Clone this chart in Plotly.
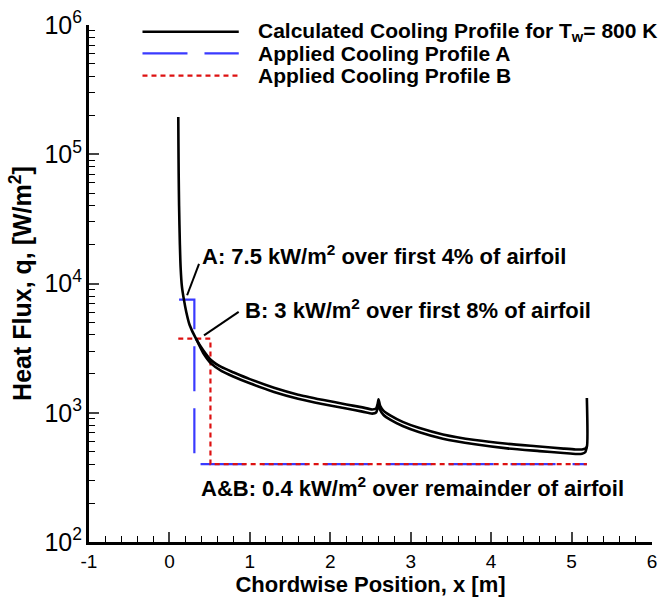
import plotly.graph_objects as go

# ---------------- data ----------------
# Calculated cooling profile (upper branch of the double curve)
x_up = [0.110, 0.112, 0.115, 0.120, 0.130, 0.140, 0.155, 0.180, 0.210, 0.250, 0.330,
        0.420, 0.520, 0.650, 0.800, 1.000, 1.300, 1.600, 1.900, 2.200, 2.400, 2.520,
        2.570, 2.590, 2.600, 2.620, 2.660, 2.750, 2.900, 3.100, 3.400, 3.800, 4.200,
        4.600, 4.900, 5.050, 5.130, 5.170, 5.190, 5.190]
q_up = [194000, 120000, 70000, 40000, 20000, 13000, 9500, 7500, 6000, 4800, 3750,
        3050, 2550, 2250, 2050, 1820, 1560, 1380, 1260, 1160, 1100, 1060,
        1080, 1180, 1270, 1130, 1040, 950, 850, 765, 680, 615, 575,
        548, 528, 520, 520, 528, 545, 1300]
# Calculated cooling profile (lower branch of the double curve)
x_lo = [0.330, 0.420, 0.520, 0.650, 0.800, 1.000, 1.300, 1.600, 1.900, 2.200, 2.400,
        2.520, 2.570, 2.590, 2.600, 2.620, 2.660, 2.750, 2.900, 3.100, 3.400, 3.800,
        4.200, 4.600, 4.900, 5.050, 5.130, 5.170, 5.190]
q_lo = [3750, 2900, 2400, 2100, 1900, 1690, 1450, 1285, 1170, 1080, 1020,
        985, 1005, 1100, 1180, 1050, 965, 880, 790, 710, 630, 570,
        530, 505, 488, 480, 482, 495, 545]
# Applied cooling profiles
x_a = [0.12, 0.31, 0.31, 5.19]
q_a = [7500, 7500, 400, 400]
x_b = [0.11, 0.51, 0.51, 5.19]
q_b = [3750, 3750, 400, 400]

# x tick labels
x_tickvals = [-1, 0, 1, 2, 3, 4, 5, 6]
x_ticktext = ["-1", "0", "1", "2", "3", "4", "5", "6"]

legend_labels = ["Calculated Cooling Profile for T<sub>w</sub>= 800 K",
                 "Applied Cooling Profile A",
                 "Applied Cooling Profile B"]
note_a = "A: 7.5 kW/m<sup>2</sup> over first 4% of airfoil"
note_b = "B: 3 kW/m<sup>2</sup> over first 8% of airfoil"
note_ab = "A&B: 0.4 kW/m<sup>2</sup> over remainder of airfoil"

BLUE = "#3a3aff"
RED = "#dd1111"
FONT = "Liberation Sans, Arial, sans-serif"

fig = go.Figure()
fig.add_trace(go.Scatter(x=x_a, y=q_a, mode="lines",
                         line=dict(color=BLUE, width=2.2, dash="45px,17px"),
                         showlegend=False))
fig.add_trace(go.Scatter(x=x_b, y=q_b, mode="lines",
                         line=dict(color=RED, width=2.2, dash="5px,4px"),
                         showlegend=False))
fig.add_trace(go.Scatter(x=x_up, y=q_up, mode="lines", line_shape="spline",
                         line=dict(color="black", width=2.6, smoothing=0.6), showlegend=False))
fig.add_trace(go.Scatter(x=x_lo, y=q_lo, mode="lines", line_shape="spline",
                         line=dict(color="black", width=2.6, smoothing=0.6), showlegend=False))

# manual legend (long line samples as in the reference)
leg_styles = [dict(color="black", width=2.6),
              dict(color=BLUE, width=2.2, dash="45px,17px"),
              dict(color=RED, width=2.2, dash="5px,4px")]
leg_y = [0.987, 0.945, 0.902]
for lab, st, yy in zip(legend_labels, leg_styles, leg_y):
    fig.add_shape(type="line", xref="paper", yref="paper",
                  x0=0.095, x1=0.266, y0=yy, y1=yy, line=st)
    fig.add_annotation(xref="paper", yref="paper", x=0.296, y=yy,
                       text="<b>" + lab + "</b>", showarrow=False,
                       xanchor="left", yanchor="middle",
                       font=dict(family=FONT, size=21, color="black"))

# leader lines
fig.add_shape(type="line", xref="x", yref="y", x0=0.220, y0=8110, x1=0.368, y1=14190,
              line=dict(color="black", width=2))
fig.add_shape(type="line", xref="x", yref="y", x0=0.430, y0=3965, x1=0.861, y1=6030,
              line=dict(color="black", width=2))

# notes (annotation y on a log axis is given as log10)
for txt, xx, ly in [(note_a, 0.380, 4.220), (note_b, 0.910, 3.803), (note_ab, 0.368, 2.424)]:
    fig.add_annotation(xref="x", yref="y", x=xx, y=ly, text="<b>" + txt + "</b>",
                       showarrow=False, xanchor="left", yanchor="middle",
                       font=dict(family=FONT, size=22, color="black"))

fig.update_xaxes(range=[-1, 6], tickvals=x_tickvals, ticktext=x_ticktext,
                 ticks="inside", ticklen=10, tickwidth=2,
                 showline=True, linewidth=3, linecolor="black", showgrid=False, zeroline=False,
                 tickfont=dict(family=FONT, size=19, color="black"),
                 minor=dict(tick0=0, dtick=0.2, ticks="inside", ticklen=6, tickwidth=1.3,
                            tickcolor="black"),
                 title=dict(text="<b>Chordwise Position, x [m]</b>", standoff=3,
                            font=dict(family=FONT, size=22, color="black")))
fig.update_yaxes(type="log", range=[2, 6], dtick=1, exponentformat="power",
                 ticks="inside", ticklen=10, tickwidth=2,
                 showline=True, linewidth=3, linecolor="black", showgrid=False, zeroline=False,
                 tickfont=dict(family=FONT, size=20, color="black"),
                 minor=dict(dtick="D1", ticks="inside", ticklen=6, tickwidth=1.3, tickcolor="black"),
                 title=dict(text="<b>Heat Flux, q, [W/m<sup>2</sup>]</b>", standoff=6,
                            font=dict(family=FONT, size=25, color="black")))

fig.update_layout(width=664, height=597, margin=dict(l=89, r=7, t=19, b=50),
                  plot_bgcolor="white", paper_bgcolor="white", showlegend=False)
fig.write_html("out.html")
